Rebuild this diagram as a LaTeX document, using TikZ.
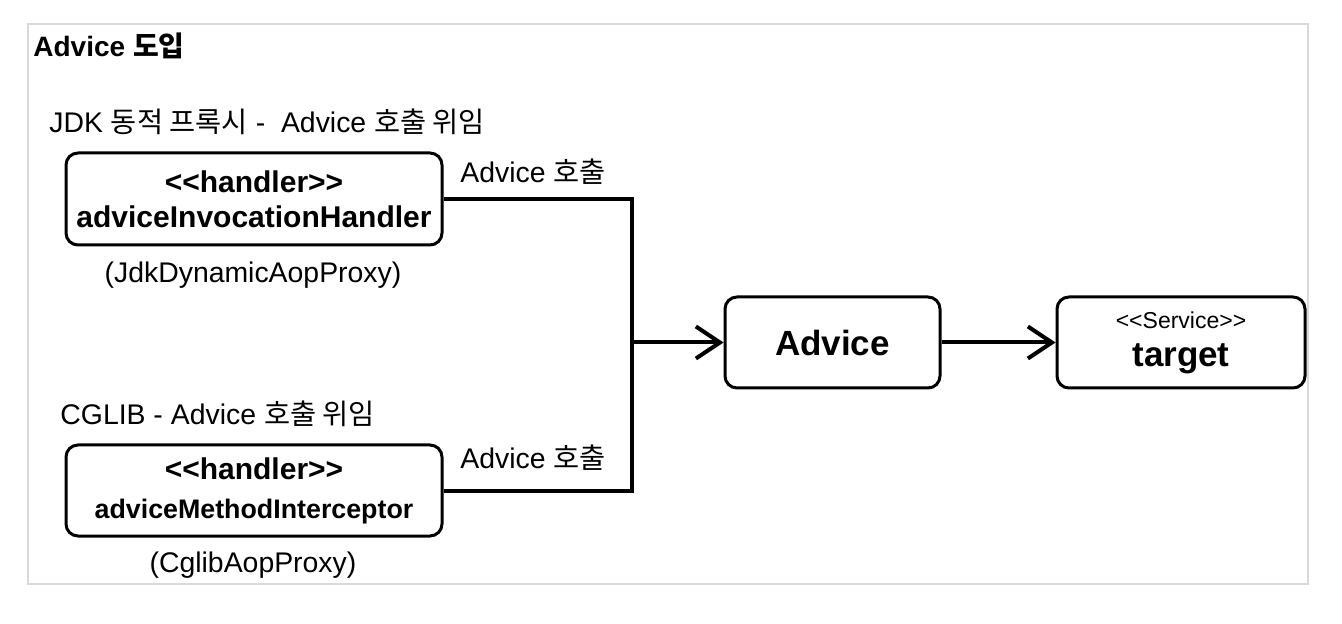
\documentclass[tikz,border=0pt]{standalone}
\usepackage{fontspec}
\setmainfont{Liberation Sans}
\newfontfamily\kr{Noto Sans CJK KR}
\usetikzlibrary{arrows.meta}
\tikzset{
  box/.style={draw=black, line width=1.5pt, rounded corners=6pt, fill=white, align=center, inner sep=0pt},
  conn/.style={line width=2pt, black},
  arr/.style={conn, -{Straight Barb[length=12pt,width=16pt,line width=2pt]}},
  lbl/.style={inner sep=0pt, font=\fontsize{14.2}{17}\selectfont},
}
\begin{document}
\begin{tikzpicture}[x=0.5pt,y=-0.5pt]
\useasboundingbox (0,0) rectangle (1342,624);
\draw[line width=1.2pt, draw=black!15] (28,24) rectangle (1308,584);

\node[lbl, anchor=base west, font=\bfseries\fontsize{14}{17}\selectfont] (title) at (33,57) {Advice {\kr 도입}};
\node[lbl, anchor=base west] (jdk) at (49,133) {JDK {\kr 동적 프록시} -\ \ Advice {\kr 호출 위임}};
\node[lbl, anchor=base west] (cglib) at (60,425) {CGLIB - Advice {\kr 호출 위임}};

\node[box, minimum width=188pt, minimum height=46pt, font=\bfseries\fontsize{15}{17.5}\selectfont] (h1) at (254,199)
  {{<}{<}handler{>}{>}\\ adviceInvocationHandler};
\node[box, minimum width=188pt, minimum height=45.5pt, font=\bfseries\fontsize{15}{17.5}\selectfont] (h2) at (254,490.5)
  {{<}{<}handler{>}{>}\\[2pt] \fontsize{13.4}{17.5}\selectfont adviceMethodInterceptor};
\node[lbl] (jp) at (253,275) {(JdkDynamicAopProxy)};
\node[lbl] (cp) at (253,565) {(CglibAopProxy)};

\node[box, minimum width=107.5pt, minimum height=45.5pt, font=\bfseries\fontsize{17.5}{20}\selectfont] (adv) at (832.5,342.5) {Advice};
\node[box, minimum width=124pt, minimum height=45.5pt, font=\fontsize{11.5}{17.5}\selectfont] (tgt) at (1181,342.5)
  {{<}{<}Service{>}{>}\\[1.5pt] \bfseries\fontsize{17.5}{17.5}\selectfont target};

\coordinate (j) at (632,342.5);
\draw[conn] (h1.east) -| (j);
\draw[conn] (h2.east) -| (j);
\draw[arr] (j) -- (adv.west);
\draw[arr] (adv.east) -- (tgt.west);

\node[lbl, anchor=base west] (c1) at (460,183) {Advice {\kr 호출}};
\node[lbl, anchor=base west] (c2) at (460,468) {Advice {\kr 호출}};
\end{tikzpicture}
\end{document}
